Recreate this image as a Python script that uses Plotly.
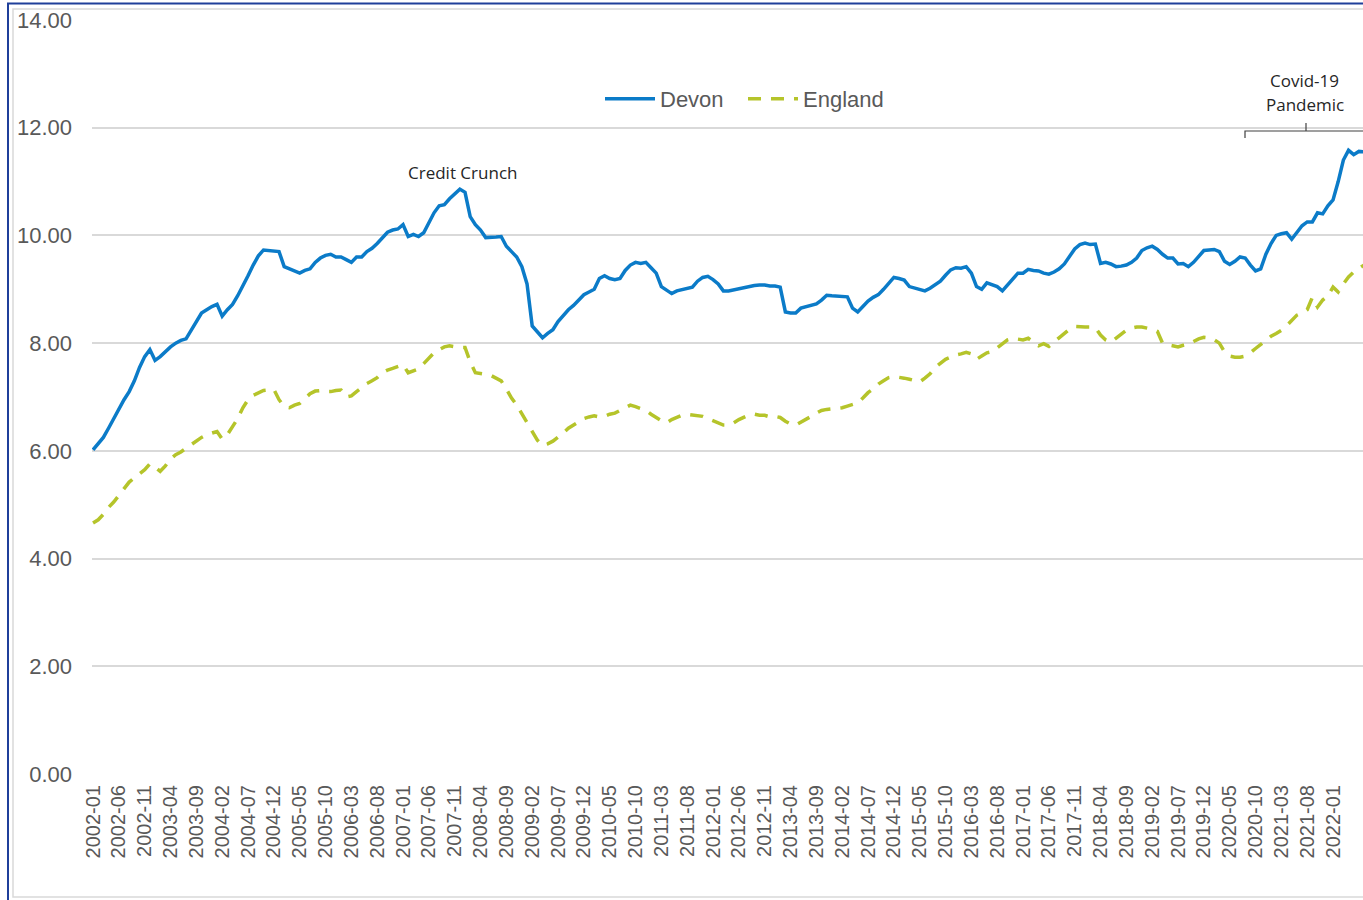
import plotly.graph_objects as go

# ---------------- data ----------------
start_year, start_month = 2002, 1

devon = [
    # 2002
    6.02, 6.13, 6.25, 6.42, 6.60, 6.78, 6.95, 7.10, 7.30, 7.55, 7.75, 7.88,
    # 2003
    7.68, 7.75, 7.85, 7.93, 8.00, 8.05, 8.08, 8.25, 8.40, 8.56, 8.62, 8.68,
    # 2004
    8.72, 8.50, 8.62, 8.72, 8.88, 9.05, 9.25, 9.45, 9.62, 9.73, 9.72, 9.72,
    # 2005
    9.70, 9.42, 9.38, 9.33, 9.30, 9.35, 9.38, 9.50, 9.58, 9.63, 9.65, 9.60,
    # 2006
    9.60, 9.55, 9.50, 9.60, 9.60, 9.70, 9.76, 9.85, 9.96, 10.06, 10.10, 10.12,
    # 2007
    10.20, 9.98, 10.02, 9.98, 10.05, 10.25, 10.42, 10.55, 10.57, 10.68, 10.78, 10.86,
    # 2008
    10.80, 10.35, 10.20, 10.10, 9.96, 9.96, 9.97, 9.98, 9.80, 9.70, 9.60, 9.42,
    # 2009
    9.10, 8.32, 8.20, 8.10, 8.18, 8.25, 8.40, 8.52, 8.62, 8.70, 8.80, 8.90,
    # 2010
    8.95, 9.00, 9.20, 9.25, 9.20, 9.18, 9.20, 9.35, 9.45, 9.50, 9.48, 9.50,
    # 2011
    9.40, 9.30, 9.05, 8.98, 8.92, 8.97, 8.99, 9.02, 9.04, 9.15, 9.22, 9.24,
    # 2012
    9.18, 9.10, 8.97, 8.97, 8.99, 9.02, 9.04, 9.06, 9.07, 9.08, 9.08, 9.06,
    # 2013
    9.06, 9.04, 8.58, 8.56, 8.56, 8.65, 8.68, 8.70, 8.73, 8.80, 8.89, 8.88,
    # 2014
    8.87, 8.86, 8.86, 8.65, 8.58, 8.68, 8.78, 8.85, 8.90, 9.00, 9.12, 9.22,
    # 2015
    9.20, 9.17, 9.05, 9.02, 9.00, 8.97, 9.02, 9.08, 9.15, 9.26, 9.36, 9.40,
    # 2016
    9.39, 9.42, 9.30, 9.05, 9.00, 9.12, 9.08, 9.05, 8.97, 9.08, 9.20, 9.30,
    # 2017
    9.30, 9.37, 9.35, 9.34, 9.30, 9.28, 9.32, 9.38, 9.47, 9.62, 9.75, 9.83,
    # 2018
    9.86, 9.83, 9.84, 9.48, 9.50, 9.47, 9.42, 9.43, 9.45, 9.50, 9.58, 9.72,
    # 2019
    9.77, 9.80, 9.74, 9.65, 9.58, 9.58, 9.47, 9.48, 9.42, 9.50, 9.60, 9.72,
    # 2020
    9.73, 9.74, 9.70, 9.52, 9.46, 9.52, 9.60, 9.58, 9.45, 9.34, 9.38, 9.65,
    # 2021
    9.85, 10.00, 10.03, 10.05, 9.93, 10.05, 10.18, 10.25, 10.25, 10.42, 10.40, 10.55,
    # 2022
    10.66, 11.00, 11.40, 11.58, 11.50, 11.56, 11.55,
]

england = [
    # 2002
    4.66, 4.72, 4.82, 4.95, 5.05, 5.18, 5.30, 5.42, 5.50, 5.58, 5.65, 5.76,
    # 2003
    5.70, 5.62, 5.72, 5.85, 5.93, 5.98, 6.05, 6.12, 6.18, 6.25, 6.30, 6.33,
    # 2004
    6.36, 6.22, 6.30, 6.45, 6.60, 6.80, 6.95, 7.03, 7.08, 7.12, 7.13, 7.14,
    # 2005
    6.95, 6.82, 6.80, 6.85, 6.88, 6.96, 7.06, 7.11, 7.12, 7.10, 7.10, 7.12,
    # 2006
    7.13, 7.00, 7.02, 7.10, 7.18, 7.25, 7.30, 7.36, 7.45, 7.50, 7.53, 7.56,
    # 2007
    7.60, 7.45, 7.48, 7.52, 7.62, 7.72, 7.82, 7.88, 7.93, 7.95, 7.93, 7.92,
    # 2008
    7.92, 7.65, 7.45, 7.44, 7.42, 7.40, 7.35, 7.30, 7.15, 6.98, 6.85, 6.68,
    # 2009
    6.54, 6.35, 6.20, 6.10, 6.13, 6.18, 6.25, 6.33, 6.42, 6.48, 6.55, 6.60,
    # 2010
    6.63, 6.65, 6.63, 6.64, 6.68, 6.70, 6.75, 6.80, 6.85, 6.82, 6.78, 6.75,
    # 2011
    6.68, 6.62, 6.56, 6.52, 6.58, 6.62, 6.66, 6.68, 6.67, 6.65, 6.64, 6.60,
    # 2012
    6.56, 6.52, 6.48, 6.48, 6.52, 6.58, 6.63, 6.67, 6.68, 6.66, 6.66, 6.63,
    # 2013
    6.64, 6.62, 6.55, 6.50, 6.48, 6.53, 6.58, 6.64, 6.70, 6.75, 6.77, 6.78,
    # 2014
    6.80, 6.80, 6.83, 6.86, 6.89, 6.98, 7.08, 7.15, 7.24, 7.30, 7.36, 7.38,
    # 2015
    7.37, 7.35, 7.33, 7.30, 7.28, 7.35, 7.43, 7.55, 7.63, 7.70, 7.74, 7.78,
    # 2016
    7.80, 7.83, 7.80, 7.70, 7.76, 7.82, 7.84, 7.92, 8.00, 8.06, 8.09, 8.08,
    # 2017
    8.06, 8.09, 8.02, 7.95, 7.99, 7.94, 8.02, 8.10, 8.18, 8.26, 8.31, 8.30,
    # 2018
    8.30, 8.30, 8.29, 8.15, 8.06, 8.02, 8.10, 8.18, 8.24, 8.28, 8.30, 8.30,
    # 2019
    8.28, 8.26, 8.22, 8.00, 7.97, 7.95, 7.93, 7.96, 7.98, 8.03, 8.08, 8.11,
    # 2020
    8.10, 8.06, 8.00, 7.84, 7.76, 7.74, 7.74, 7.76, 7.82, 7.90, 7.98, 8.07,
    # 2021
    8.13, 8.18, 8.24, 8.32, 8.43, 8.52, 8.56, 8.62, 8.85, 8.67, 8.80, 8.88,
    # 2022
    9.04, 8.95, 9.10, 9.23, 9.32, 9.39, 9.45,
]

months = []
y, m = start_year, start_month
for _ in range(len(devon)):
    months.append(f"{y}-{m:02d}")
    m += 1
    if m > 12:
        m = 1
        y += 1

# labelled ticks: every 5th month, 2002-01 .. 2022-01 (last one visible in the reference)
tick_labels = months[:241:5]
y_ticks = [0, 2, 4, 6, 8, 10, 12, 14]

# ---------------- style ----------------
W, H = 1363, 900
ML, MR, MT, MB = 92, 0, 20, 126
PW, PH = W - ML - MR, H - MT - MB

def px(xp):
    return (xp - ML) / PW

def py(yp):
    return (H - MB - yp) / PH

GRAY = "#595959"
FONT = "Liberation Sans, Arial, sans-serif"

fig = go.Figure()
fig.add_trace(go.Scatter(
    x=months, y=devon, name="Devon", mode="lines",
    line=dict(color="#0B7BC8", width=3.5),
))
fig.add_trace(go.Scatter(
    x=months, y=england, name="England", mode="lines",
    line=dict(color="#B5C42A", width=3.5, dash="13px,10px"),
))

shapes = [
    # outer blue frame
    dict(type="rect", xref="paper", yref="paper",
         x0=px(8), x1=px(1420), y0=py(904), y1=py(3.5),
         line=dict(color="#1F3F9A", width=2), layer="below"),
    # inner light frame
    dict(type="rect", xref="paper", yref="paper",
         x0=px(13), x1=px(1420), y0=py(897), y1=py(9),
         line=dict(color="#D9D9D9", width=1.5), layer="below"),
    # covid bracket
    dict(type="path", xref="paper", yref="paper",
         path=(f"M {px(1245)} {py(138)} L {px(1245)} {py(131)} "
               f"L {px(1380)} {py(131)}"),
         line=dict(color="#404040", width=1.2)),
    dict(type="line", xref="paper", yref="paper",
         x0=px(1306), x1=px(1306), y0=py(131), y1=py(123),
         line=dict(color="#404040", width=1.2)),
]

annotations = [
    dict(text="Credit Crunch", xref="paper", yref="paper",
         x=px(463), y=py(172), xanchor="center", yanchor="middle",
         showarrow=False, font=dict(family="Open Sans", size=17, color="#262626")),
    dict(text="Covid-19", xref="paper", yref="paper",
         x=px(1304), y=py(80), xanchor="center", yanchor="middle",
         showarrow=False, font=dict(family="Open Sans", size=17, color="#262626")),
    dict(text="Pandemic", xref="paper", yref="paper",
         x=px(1305), y=py(105), xanchor="center", yanchor="middle",
         showarrow=False, font=dict(family="Open Sans", size=17, color="#262626")),
]

fig.update_layout(
    width=W, height=H,
    margin=dict(l=ML, r=MR, t=MT, b=MB, autoexpand=False),
    paper_bgcolor="white", plot_bgcolor="white",
    font=dict(family=FONT, color=GRAY, size=21),
    showlegend=True,
    legend=dict(orientation="h", x=px(600), y=py(99), xanchor="left", yanchor="middle",
                font=dict(size=22, color=GRAY), bgcolor="rgba(0,0,0,0)",
                itemwidth=50, entrywidth=78, entrywidthmode="pixels",
                traceorder="normal"),
    shapes=shapes,
    annotations=annotations,
    xaxis=dict(type="category", categoryorder="array", categoryarray=months,
               tickmode="array", tickvals=tick_labels, ticktext=tick_labels,
               tickangle=-90, range=[-0.2, 245.8], showgrid=False,
               showline=False, zeroline=False, ticks="", ticklabelstandoff=6,
               tickfont=dict(size=20, color=GRAY, family=FONT)),
    yaxis=dict(range=[0, 14], tickvals=y_ticks, tickformat=".2f",
               showgrid=True, gridcolor="#D9D9D9", gridwidth=1.5,
               zeroline=False, showline=False, ticks="", ticklabelstandoff=19,
               tickfont=dict(size=22, color=GRAY, family=FONT)),
)

fig.write_html("out.html",
               config={"displayModeBar": False},
               post_script="document.body.style.margin='0px';"
                           "document.body.style.overflow='hidden';")
